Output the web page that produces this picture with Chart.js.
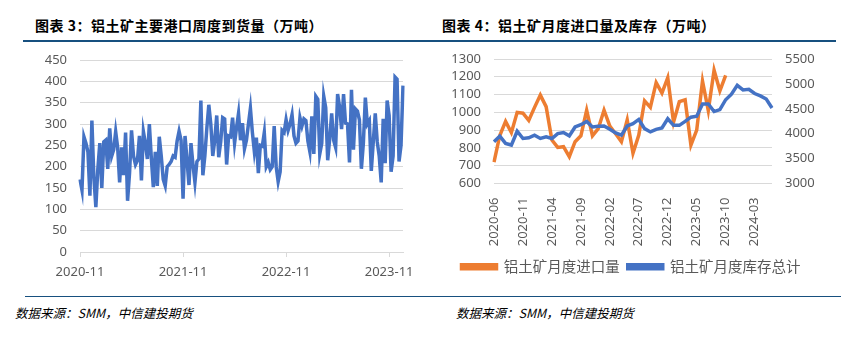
<!DOCTYPE html>
<html lang="zh-CN">
<head>
<meta charset="UTF-8">
<title>铝土矿到货量与库存</title>
<script src="https://cdn.jsdelivr.net/npm/chart.js"></script>
<style>
    html, body { margin: 0; padding: 0; background: #fff; }
    body { width: 856px; height: 337px; position: relative; overflow: hidden; }
    .title { position: absolute; top: 15px; font: bold 14px "Noto Sans CJK SC", sans-serif; letter-spacing: 0.5px; color: #000; }
    .rule { position: absolute; left: 23px; width: 813px; background: #17507f; }
    .source { position: absolute; top: 303px; font: italic 12.5px "Noto Sans CJK SC", sans-serif; color: #000; }
    canvas { position: absolute; top: 0; }
</style>
</head>
<body>

<div class="title" style="left:35px">图表 3：铝土矿主要港口周度到货量（万吨）</div>
<div class="title" style="left:442px">图表 4：铝土矿月度进口量及库存（万吨）</div>
<div class="rule" style="top:40px;height:2px"></div>

<canvas id="weekly" width="430" height="290" style="left:0"></canvas>
<canvas id="monthly" width="426" height="290" style="left:430px"></canvas>

<div class="rule" style="top:296px;height:1px;left:25px;width:816px"></div>
<div class="source" style="left:15px">数据来源：SMM，中信建投期货</div>
<div class="source" style="left:456px">数据来源：SMM，中信建投期货</div>

<script>
    // weekly arrivals at major ports, first week of 2020-11 onwards
    const arrivals = [
        170, 145, 270, 255, 235, 132, 308, 175, 105, 195,
        255, 150, 258, 262, 195, 290, 225, 240, 282, 245,
        163, 245, 180, 280, 120, 185, 285, 225, 205, 215,
        272, 168, 282, 255, 218, 300, 220, 152, 235, 155,
        270, 225, 170, 155, 200, 205, 212, 225, 222, 260,
        283, 262, 125, 272, 215, 157, 255, 205, 163, 212,
        218, 355, 180, 225, 290, 345, 300, 225, 262, 320,
        222, 258, 315, 312, 205, 272, 270, 315, 255, 292,
        325, 262, 302, 242, 262, 300, 337, 280, 235, 268,
        185, 250, 248, 280, 200, 210, 193, 200, 295, 200,
        165, 188, 285, 280, 310, 285, 300, 322, 272, 255,
        260, 315, 295, 312, 308, 260, 235, 318, 230, 365,
        358, 230, 255, 365, 338, 215, 265, 325, 262, 245,
        370, 340, 288, 370, 302, 300, 210, 380, 240, 335,
        330, 310, 195, 255, 362, 300, 308, 190, 258, 325,
        258, 225, 163, 312, 208, 355, 320, 188, 225, 410,
        405, 212, 250, 390
    ];
    const yearTicks = ['2020-11', '2021-11', '2022-11', '2023-11'];
    const weeksPerYear = 52;

    const months = [
        '2020-06', '2020-07', '2020-08', '2020-09', '2020-10', '2020-11', '2020-12',
        '2021-01', '2021-02', '2021-03', '2021-04', '2021-05', '2021-06', '2021-07',
        '2021-08', '2021-09', '2021-10', '2021-11', '2021-12', '2022-01', '2022-02',
        '2022-03', '2022-04', '2022-05', '2022-06', '2022-07', '2022-08', '2022-09',
        '2022-10', '2022-11', '2022-12', '2023-01', '2023-02', '2023-03', '2023-04',
        '2023-05', '2023-06', '2023-07', '2023-08', '2023-09', '2023-10', '2023-11',
        '2023-12', '2024-01', '2024-02', '2024-03', '2024-04', '2024-05', '2024-06'
    ];
    // monthly imports, 2020-06 to 2023-10
    const imports = [
        720, 870, 949, 886, 1000, 995, 955, 1028, 1097, 1032,
        844, 803, 807, 751, 835, 868, 1012, 868, 908, 1012,
        923, 880, 835, 958, 770, 872, 1065, 1028, 1167, 1108,
        1195, 945, 1060, 1071, 816, 900, 1176, 1010, 1237, 1121,
        1208
    ];
    // monthly total inventory, 2020-06 to 2024-06
    const stock = [
        3840, 3950, 3805, 3772, 4049, 3904, 3917, 3970, 3904, 3937,
        3904, 4003, 4023, 3957, 4135, 4181, 4247, 4135, 4148, 4155,
        4088, 4016, 3970, 4155, 4201, 4286, 4102, 4036, 4088, 4115,
        4300, 4168, 4168, 4247, 4332, 4352, 4596, 4596, 4445, 4484,
        4682, 4794, 4972, 4880, 4893, 4807, 4760, 4695, 4517
    ];

    const BLUE = '#4472C4';
    const ORANGE = '#ED7D31';
    const GRID = '#d9d9d9';
    const TICK = '#595959';
    const tickFont = { family: 'Noto Sans', size: 13 };

    Chart.defaults.animation = false;
    Chart.defaults.responsive = false;
    Chart.defaults.devicePixelRatio = 1;

    // plain numbers on value axes, every step shown
    const valueTicks = step => ({
        stepSize: step,
        autoSkip: false,
        padding: 13,
        color: TICK,
        font: tickFont,
        callback: v => String(v)
    });

    new Chart(document.getElementById('weekly'), {
        type: 'line',
        data: {
            labels: arrivals.map((v, i) => i),
            datasets: [{
                data: arrivals,
                borderColor: BLUE,
                borderWidth: 3.5,
                pointRadius: 0,
                tension: 0
            }]
        },
        options: {
            layout: { padding: { top: 60, right: 27, left: 0, bottom: 0 } },
            plugins: { legend: { display: false }, tooltip: { enabled: false } },
            scales: {
                x: {
                    ticks: {
                        autoSkip: false,
                        maxRotation: 0,
                        padding: 7,
                        color: TICK,
                        font: tickFont,
                        callback: (v, i) => i % weeksPerYear === 0 ? yearTicks[i / weeksPerYear] : null
                    },
                    grid: { drawOnChartArea: false, tickLength: 5, color: GRID },
                    border: { color: GRID },
                    afterFit: s => { s.height = 38; }
                },
                y: {
                    min: 0,
                    max: 450,
                    ticks: valueTicks(50),
                    grid: { color: GRID, drawTicks: false },
                    border: { display: false },
                    afterFit: s => { s.width = 80; }
                }
            }
        }
    });

    new Chart(document.getElementById('monthly'), {
        type: 'line',
        data: {
            labels: months,
            datasets: [{
                label: '铝土矿月度进口量',
                data: imports,
                yAxisID: 'y',
                borderColor: ORANGE,
                backgroundColor: ORANGE,
                borderWidth: 3.5,
                pointRadius: 0,
                tension: 0,
                order: 1
            }, {
                label: '铝土矿月度库存总计',
                data: stock,
                yAxisID: 'y1',
                borderColor: BLUE,
                backgroundColor: BLUE,
                borderWidth: 3.5,
                pointRadius: 0,
                tension: 0,
                order: 0
            }]
        },
        options: {
            layout: { padding: { top: 59, right: 24, left: 0, bottom: 6 } },
            plugins: {
                tooltip: { enabled: false },
                legend: {
                    position: 'bottom',
                    reverse: true,
                    labels: {
                        boxWidth: 35,
                        boxHeight: 4,
                        padding: 8,
                        color: TICK,
                        font: { family: 'Noto Sans CJK SC', size: 14.5 }
                    }
                }
            },
            scales: {
                x: {
                    ticks: {
                        autoSkip: false,
                        minRotation: 90,
                        maxRotation: 90,
                        padding: 6,
                        color: TICK,
                        font: tickFont,
                        callback: (v, i) => i % 5 === 0 ? months[i] : null
                    },
                    grid: { display: false },
                    border: { display: false },
                    afterFit: s => { s.height = 68; }
                },
                y: {
                    position: 'left',
                    min: 600,
                    max: 1300,
                    ticks: valueTicks(100),
                    grid: { color: GRID, drawTicks: false },
                    border: { display: false },
                    afterFit: s => { s.width = 64; }
                },
                y1: {
                    position: 'right',
                    min: 3000,
                    max: 5500,
                    ticks: valueTicks(500),
                    grid: { drawOnChartArea: false, drawTicks: false },
                    border: { display: false },
                    afterFit: s => { s.width = 60; }
                }
            }
        }
    });
</script>
</body>
</html>
